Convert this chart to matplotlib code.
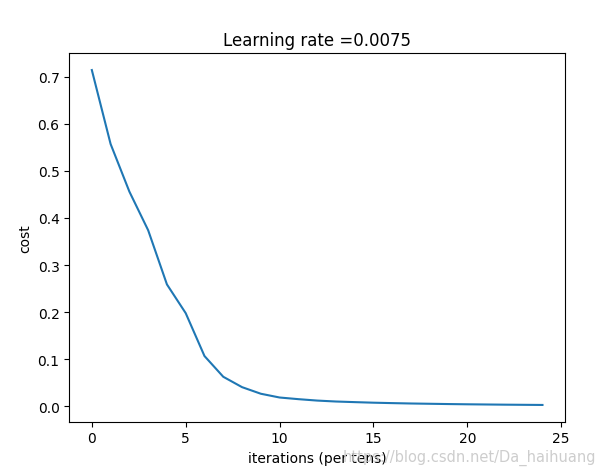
import matplotlib
matplotlib.use("Agg")
import matplotlib.pyplot as plt
import numpy as np

iterations = list(range(25))
costs = [0.714, 0.557, 0.456, 0.374, 0.259, 0.198, 0.107, 0.063, 0.041, 0.027,
         0.019, 0.0155, 0.0125, 0.0105, 0.0092, 0.0080, 0.0071, 0.0063, 0.0057,
         0.0051, 0.0046, 0.0042, 0.0038, 0.0035, 0.0032]
title = "Learning rate =0.0075"

fig = plt.figure(figsize=(6.03, 4.77), dpi=100)
ax = fig.add_axes([69.3/603, 1-422.7/477, (565-69.3)/603, (422.7-54.3)/477])
ax.plot(iterations, np.squeeze(costs))
ax.set_ylabel("cost")
ax.set_xlabel("iterations (per tens)")
ax.set_title(title)
fig.text(0.988, 0.039, "https://blog.csdn.net/Da_haihuang", ha="right", va="center",
         color="#c8c8c8", fontsize=10.5, alpha=0.9)
fig.savefig("out.png", dpi=100)
